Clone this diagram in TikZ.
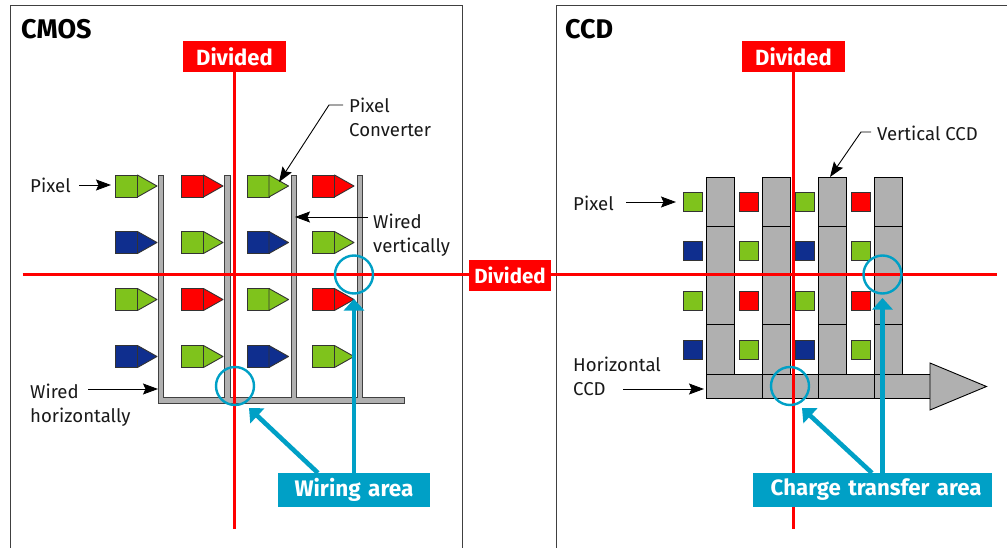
\documentclass[tikz,border=0pt]{standalone}
\usepackage{fontspec}
\setmainfont{Fira Sans}
\usetikzlibrary{arrows.meta}
\definecolor{pgreen}{HTML}{7FC31C}
\definecolor{pred}{HTML}{FF0000}
\definecolor{pblue}{HTML}{0F2E8E}
\definecolor{wgray}{HTML}{B0B0B0}
\definecolor{teal}{HTML}{00A0C6}
\tikzset{
 x=1pt,y=-1pt,
 panel/.style={draw=black!75,line width=1pt},
 lbl/.style={font=\fontsize{18.6}{24}\selectfont,text=black!90,inner sep=0,align=left,anchor=north west},
 ttl/.style={font=\fontsize{27}{30}\selectfont\bfseries,inner sep=0,anchor=west},
 divbox/.style={fill=pred,text=white,font=\fontsize{22}{26}\selectfont\bfseries,inner sep=0,minimum width=103,minimum height=31},
 tealbox/.style={fill=teal,text=white,font=\fontsize{22.5}{26}\selectfont\bfseries,inner sep=0,minimum height=34},
 redline/.style={draw=pred,line width=2.6pt},
 wire/.style={draw=black!75,fill=wgray,line width=1pt},
 ccd/.style={draw=black,fill=wgray,line width=0.9pt},
 pt/.style={draw=black,line width=0.9pt,-{Stealth[length=15pt,width=11pt,inset=2.5pt]}},
 tealarrow/.style={draw=teal,line width=4.6pt,-{Triangle[length=11.5pt,width=20pt]}},
 ring/.style={draw=teal,line width=2.4pt,circle,minimum size=38,inner sep=0}
}
\newcommand{\lpix}[3]{% x,y,colour
 \draw[draw=black!80,line width=0.9pt,fill=#3] (#1,#2) rectangle ++(22,22);
 \draw[draw=black!80,line width=0.9pt,fill=#3,line join=round] (#1+22,#2) -- (#1+41.5,#2+11) -- (#1+22,#2+22) -- cycle;}
\newcommand{\rpix}[3]{% x,y,colour
 \draw[draw=black!80,line width=1pt,fill=#3] (#1,#2) rectangle ++(19,19);}
\begin{document}
\begin{tikzpicture}
\useasboundingbox (0,0) rectangle (1007,548);
\fill[white] (0,0) rectangle (1007,548);
% panels
\draw[panel] (10.5,548) -- (10.5,6) -- (462.5,6) -- (462.5,548);
\draw[panel] (556,548) -- (556,6) -- (1007,6);
\node[ttl] (tcmos) at (21,29) {CMOS};
\node[ttl] (tccd) at (565,29) {CCD};
% CMOS wires
\draw[wire] (158.5,175.5) -- (163.5,175.5) -- (163.5,397.5) -- (224.5,397.5) -- (224.5,175.5) -- (230,175.5) -- (230,397.5) -- (291,397.5) -- (291,175.5) -- (296,175.5) -- (296,397.5) -- (357,397.5) -- (357,175.5) -- (362,175.5) -- (362,397.5) -- (404,397.5) -- (404,403) -- (158.5,403) -- cycle;
% CMOS pixels
\lpix{115.5}{175}{pgreen}\lpix{181.5}{175}{pred}\lpix{247}{175}{pgreen}\lpix{312.5}{175}{pred}
\lpix{115.5}{231.5}{pblue}\lpix{181.5}{231.5}{pgreen}\lpix{247}{231.5}{pblue}\lpix{312.5}{231.5}{pgreen}
\lpix{115.5}{288.5}{pgreen}\lpix{181.5}{288.5}{pred}\lpix{247}{288.5}{pgreen}\lpix{312.5}{288.5}{pred}
\lpix{115.5}{345.5}{pblue}\lpix{181.5}{345.5}{pgreen}\lpix{247}{345.5}{pblue}\lpix{312.5}{345.5}{pgreen}
% CCD vertical
\foreach \x in {706,762,818,874}{
 \draw[ccd] (\x,177.5) rectangle ++(28,49);
 \draw[ccd] (\x,226.5) rectangle ++(28,49);
 \draw[ccd] (\x,275.5) rectangle ++(28,49);
 \draw[ccd] (\x,324.5) rectangle ++(28,49.5);
}
\draw[ccd] (706,374) rectangle (762,398.5);
\draw[ccd] (762,374) rectangle (818,398.5);
\draw[ccd] (818,374) rectangle (874,398.5);
\draw[ccd] (874,374) rectangle (930,398.5);
\draw[ccd,line join=miter] (930,363) -- (986.5,386.5) -- (930,410) -- cycle;
% red lines
\node[divbox] (divl) at (234.5,56.5) {Divided};
\node[divbox] (divr) at (793.5,56.5) {Divided};
\node[divbox,minimum width=82,minimum height=31,font=\fontsize{20.5}{24}\selectfont\bfseries] (divc) at (510,275.5) {Divided};
\coordinate (lbot) at (234.5,529);
\coordinate (rbot) at (793.5,529);
\coordinate (hl) at (22.5,274.5);
\coordinate (hr) at (997,274.5);
\draw[redline] (divl.south) -- (lbot);
\draw[redline] (divr.south) -- (rbot);
\draw[redline] (hl) -- (hl -| divc.west);
\draw[redline] (hr -| divc.east) -- (hr);
% CCD pixels
\rpix{683}{192.5}{pgreen}\rpix{739}{192.5}{pred}\rpix{795}{192.5}{pgreen}\rpix{851}{192.5}{pred}
\rpix{683}{241.5}{pblue}\rpix{739}{241.5}{pgreen}\rpix{795}{241.5}{pblue}\rpix{851}{241.5}{pgreen}
\rpix{683}{291}{pgreen}\rpix{739}{291}{pred}\rpix{795}{291}{pgreen}\rpix{851}{291}{pred}
\rpix{683}{340}{pblue}\rpix{739}{340}{pgreen}\rpix{795}{340}{pblue}\rpix{851}{340}{pgreen}
% rings
\node[ring] (r1) at (354,274.5) {};
\node[ring] (r2) at (235,386) {};
\node[ring] (r3) at (882.5,274.5) {};
\node[ring] (r4) at (790,386) {};
% teal boxes
\node[tealbox,minimum width=152,text width=150,align=center] (wa) at (354,490) {Wiring area};
\node[tealbox,minimum width=239,text width=218,align=right,font=\fontsize{22.2}{26}\selectfont\bfseries] (cta) at (872.5,490) {Charge transfer area};
\coordinate (wa1) at (318,473);
\coordinate (wa2) at (354,473);
\coordinate (ct1) at (872,473);
\coordinate (ct2) at (882.5,473);
\draw[tealarrow] (wa1) -- (249,408);
\draw[tealarrow] (wa2) -- (354,299);
\draw[tealarrow] (ct1) -- (802,408);
\draw[tealarrow] (ct2) -- (882.5,298);
% labels CMOS
\node[lbl] (lpixel) at (30,177.5) {Pixel};
\coordinate (lpixelt) at (111,185);
\draw[pt] (79,185) -- (lpixelt);
\node[lbl] (lconv) at (349,98) {Pixel\\Converter};
\coordinate (lconvt) at (279,182);
\draw[pt] (343,105) -- (329,105) -- (lconvt);
\node[lbl] (lwv) at (373,214) {Wired\\vertically};
\coordinate (lwvt) at (295,217);
\draw[pt] (368,217) -- (lwvt);
\node[lbl] (lwh) at (30,384) {Wired\\horizontally};
\coordinate (lwht) at (158,389);
\draw[pt] (88,389) -- (lwht);
% labels CCD
\node[lbl] (rpixel) at (573,196) {Pixel};
\coordinate (rpixelt) at (676,202);
\draw[pt] (626,202) -- (rpixelt);
\node[lbl] (rvc) at (877,126) {Vertical CCD};
\coordinate (rvct) at (830,177);
\draw[pt] (871,132) -- (861,132) -- (rvct);
\node[lbl] (rhc) at (573,356.5) {Horizontal\\CCD};
\coordinate (rhct) at (704,389);
\draw[pt] (623,389) -- (rhct);
\end{tikzpicture}
\end{document}
